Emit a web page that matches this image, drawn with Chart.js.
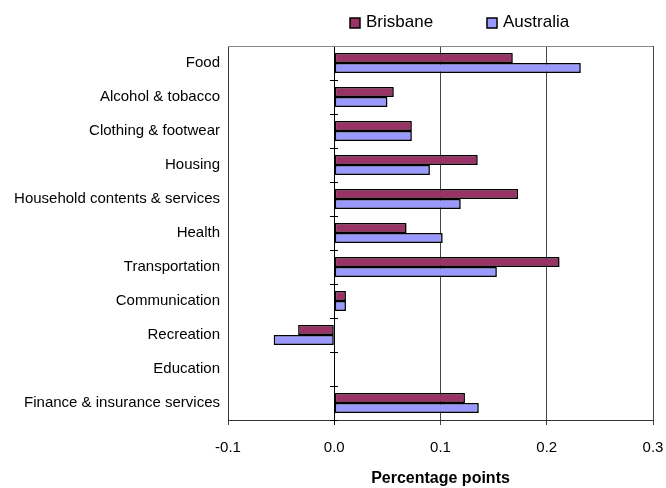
<!DOCTYPE html>
<html>
<head>
<meta charset="utf-8">
<script src="https://cdn.jsdelivr.net/npm/chart.js@4/dist/chart.umd.min.js"></script>
<style>
  html, body { margin: 0; padding: 0; background: #fff; }
  #wrap { width: 666px; height: 488px; }
</style>
</head>
<body>
<div id="wrap"><canvas id="cpiGraph"></canvas></div>
<script>
const categories = ['Food', 'Alcohol & tobacco', 'Clothing & footwear', 'Housing', 'Household contents & services',
    'Health', 'Transportation', 'Communication', 'Recreation', 'Education', 'Finance & insurance services']
const brisbane = [0.168, 0.056, 0.073, 0.135, 0.173, 0.068, 0.212, 0.011, -0.034, 0, 0.123]
const australia = [0.232, 0.050, 0.073, 0.090, 0.119, 0.102, 0.153, 0.011, -0.057, 0, 0.136]
const xTicks = [-0.1, 0.0, 0.1, 0.2, 0.3]

Chart.defaults.font.family = '"Liberation Sans", Arial, sans-serif'
Chart.defaults.color = '#000'

// legend drawn by hand so the gap between the two entries matches
const legendMarks = {
    id: 'legendMarks',
    afterDraw(chart){
        const ctx = chart.ctx
        const xs = [350, 487]
        ctx.save()
        ctx.font = '17px "Liberation Sans", Arial, sans-serif'
        ctx.textBaseline = 'middle'
        chart.data.datasets.forEach((ds, i)=>{
            ctx.fillStyle = ds.backgroundColor
            ctx.fillRect(xs[i], 18, 10, 10)
            ctx.strokeStyle = '#000'
            ctx.lineWidth = 1.5
            ctx.strokeRect(xs[i], 18, 10, 10)
            ctx.fillStyle = '#000'
            ctx.fillText(ds.label, xs[i] + 16, 22)
        })
        ctx.restore()
    }
}

// faint drop shadow under the bars
const barShadow = {
    id: 'barShadow',
    beforeDatasetsDraw(chart){
        const ctx = chart.ctx
        ctx.save()
        ctx.shadowColor = 'rgba(0,0,0,0.3)'
        ctx.shadowOffsetX = 1.5
        ctx.shadowOffsetY = 1.5
        ctx.shadowBlur = 0
    },
    afterDatasetsDraw(chart){
        chart.ctx.restore()
    }
}

// small category ticks on the zero line and the top frame line
const axisMarks = {
    id: 'axisMarks',
    afterDatasetsDraw(chart){
        const {ctx, chartArea, scales: {x, y}} = chart
        const x0 = Math.round(x.getPixelForValue(0))
        ctx.save()
        ctx.strokeStyle = '#000'
        ctx.lineWidth = 1
        ctx.beginPath()
        for(let i = 0;i <= categories.length;i++){
            const yy = Math.round(y.getPixelForValue(i - 0.5)) + 0.5
            ctx.moveTo(x0 - 4, yy)
            ctx.lineTo(x0 + 4, yy)
        }
        ctx.stroke()
        ctx.strokeStyle = '#888'
        ctx.beginPath()
        ctx.moveTo(chartArea.left, Math.round(chartArea.top) + 0.5)
        ctx.lineTo(chartArea.right, Math.round(chartArea.top) + 0.5)
        ctx.stroke()
        ctx.restore()
    }
}

const cpiGraph = document.querySelector('#cpiGraph')
const myChart = new Chart(cpiGraph, {
    type: 'bar',
    data: {
        labels: categories,
        datasets: [{
            label: 'Brisbane',
            data: brisbane,
            backgroundColor: '#993366',
            borderColor: '#000',
            borderWidth: 1.5,
            borderSkipped: false
        }, {
            label: 'Australia',
            data: australia,
            backgroundColor: '#9999ff',
            borderColor: '#000',
            borderWidth: 1.5,
            borderSkipped: false
        }]
    },
    options: {
        indexAxis: 'y',
        responsive: true,
        maintainAspectRatio: false,
        animation: false,
        layout: {padding: {top: 46, left: 0, right: 0, bottom: 0}},
        datasets: {bar: {categoryPercentage: 0.59, barPercentage: 1}},
        plugins: {
            legend: {display: false},
            tooltip: {enabled: false}
        },
        scales: {
            x: {
                min: -0.1,
                max: 0.3,
                afterBuildTicks: (s)=>{ s.ticks = xTicks.map(v => ({value: v})) },
                ticks: {
                    callback: (v)=> Number(v).toFixed(1),
                    font: {size: 15},
                    padding: 14
                },
                grid: {
                    color: (c)=> c.tick && c.tick.value === 0 ? '#000' : '#444',
                    tickLength: 5
                },
                border: {color: '#333'},
                title: {
                    display: true,
                    text: 'Percentage points',
                    font: {size: 16, weight: 'bold'},
                    padding: {top: 4, bottom: 0}
                },
                afterFit: (s)=>{
                    s.height = 68
                    s.paddingRight = 13
                }
            },
            y: {
                ticks: {font: {size: 15}, padding: 8},
                grid: {drawOnChartArea: false, drawTicks: false},
                border: {color: '#333'},
                afterFit: (s)=>{ s.width = 228 }
            }
        }
    },
    plugins: [legendMarks, barShadow, axisMarks]
})
</script>
</body>
</html>
